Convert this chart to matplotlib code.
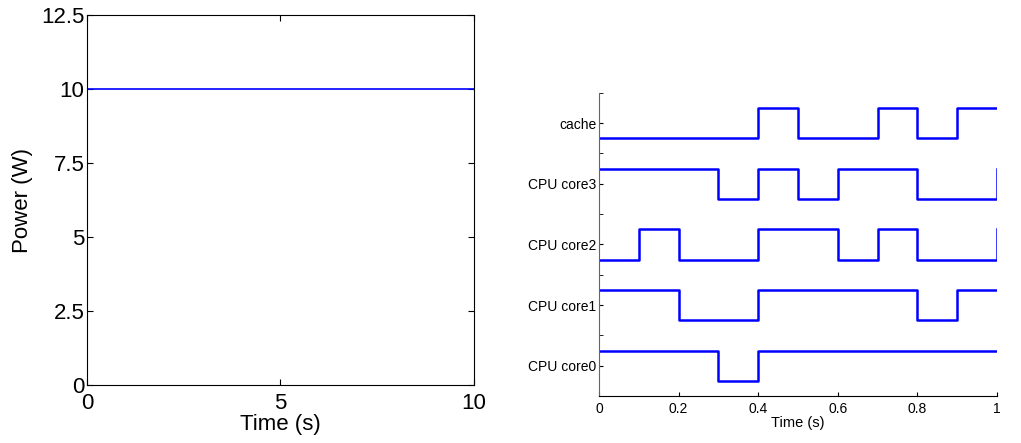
import numpy as np
import matplotlib
matplotlib.use('Agg')
import matplotlib.pyplot as plt

plt.rcParams['font.family'] = ['Liberation Sans', 'DejaVu Sans']

# left panel: total power
power_t = [0, 0, 10]
power_w = [0, 10, 10]

# right panel: on/off schedule per component (0.1 s slots, last value = state at t=1)
slot_t = np.round(np.arange(0, 1.01, 0.1), 1)
units = ['CPU core0', 'CPU core1', 'CPU core2', 'CPU core3', 'cache']
states = {
    'CPU core0': [1, 1, 1, 0, 1, 1, 1, 1, 1, 1, 1],
    'CPU core1': [1, 1, 0, 0, 1, 1, 1, 1, 0, 1, 1],
    'CPU core2': [0, 1, 0, 0, 1, 1, 0, 1, 0, 0, 1],
    'CPU core3': [1, 1, 1, 0, 1, 0, 1, 1, 0, 0, 1],
    'cache':     [0, 0, 0, 0, 1, 0, 0, 1, 0, 1, 1],
}

fig = plt.figure(figsize=(10.21, 4.43), dpi=100)

ax1 = fig.add_axes([0.0855, 0.1309, 0.3784, 0.8352])
ax1.plot(power_t, power_w, color='blue', lw=1.2)
ax1.set_xlim(0, 10)
ax1.set_ylim(0, 12.5)
ax1.set_xticks([0, 5, 10])
ax1.set_yticks([0, 2.5, 5, 7.5, 10, 12.5])
ax1.set_yticklabels(['0', '2.5', '5', '7.5', '10', '12.5'])
ax1.tick_params(direction='in', top=True, right=True, length=4, labelsize=16, pad=2)
ax1.tick_params(axis='x', pad=6)
ax1.set_xlabel('Time (s)', fontsize=16, labelpad=0)
ax1.set_ylabel('Power (W)', fontsize=16, labelpad=6)

ax2 = fig.add_axes([0.5867, 0.1061, 0.3898, 0.6846])
for i, name in enumerate(units):
    y = i + 1 + 0.5 * (np.array(states[name]) - 0.5)
    ax2.step(slot_t, y, where='post', color='blue', lw=1.8)
ax2.set_xlim(0, 1)
ax2.set_ylim(0.5, 5.5)
ax2.set_xticks([0, 0.2, 0.4, 0.6, 0.8, 1])
ax2.set_xticklabels(['0', '0.2', '0.4', '0.6', '0.8', '1'])
ax2.set_yticks(range(1, 6))
ax2.set_yticklabels(units)
ax2.set_yticks(np.arange(0.5, 5.6, 1), minor=True)
ax2.spines['top'].set_visible(False)
ax2.spines['right'].set_visible(False)
ax2.spines['left'].set_color('#666666')
ax2.tick_params(which='both', direction='in', length=3, labelsize=10, pad=2)
ax2.tick_params(axis='x', pad=4)
ax2.set_xlabel('Time (s)', fontsize=10.5, labelpad=0)

fig.savefig('out.png', dpi=100)
